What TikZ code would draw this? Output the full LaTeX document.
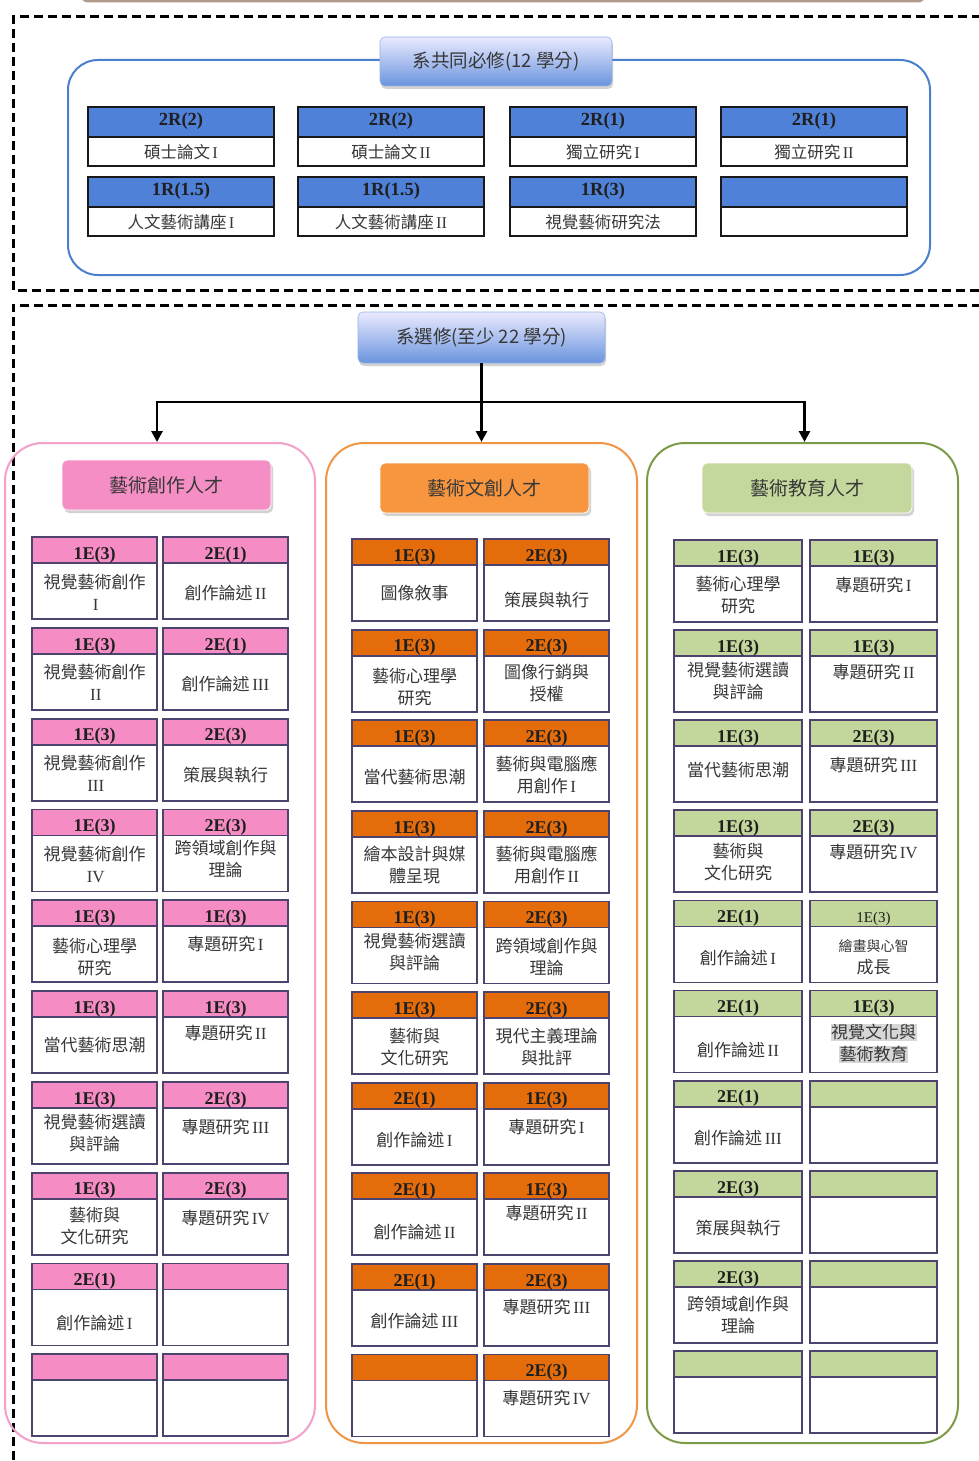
\documentclass[tikz,border=0pt]{standalone}
\usepackage{fontspec}
\setmainfont{Liberation Serif}
\newfontfamily\cjk{Noto Sans CJK TC}
\usetikzlibrary{shadows,arrows.meta,calc}
\definecolor{reqblue}{RGB}{79,129,216}
\definecolor{pinkhdr}{RGB}{246,140,196}
\definecolor{orghdr}{RGB}{228,108,10}
\definecolor{grnhdr}{RGB}{195,214,155}
\definecolor{cellrim}{RGB}{78,66,110}
\definecolor{contblue}{RGB}{74,128,206}
\definecolor{contpink}{RGB}{243,160,200}
\definecolor{contorg}{RGB}{240,150,70}
\definecolor{contgrn}{RGB}{125,155,70}
\definecolor{ttlpink}{RGB}{246,142,198}
\definecolor{ttlorg}{RGB}{248,150,64}
\definecolor{ttlgrn}{RGB}{196,215,156}
\definecolor{txtgray}{RGB}{55,55,55}
\definecolor{hlgray}{RGB}{215,215,215}
\definecolor{topbrown}{RGB}{176,154,140}
\tikzset{
  dashbox/.style={line width=3pt, dash pattern=on 9pt off 5pt},
  cellline/.style={draw=cellrim, line width=1.8pt},
  reqline/.style={draw=black!90, line width=2.2pt},
  lbl/.style={font=\bfseries\fontsize{18}{18}\selectfont, text=black!88, inner sep=0pt},
  reqlbl/.style={font=\bfseries\fontsize{18.5}{18.5}\selectfont, text=black!88, inner sep=0pt},
  bodytxt/.style={font=\cjk\fontsize{17}{22}\selectfont, text=txtgray, align=center, inner sep=0pt},
  reqbody/.style={font=\cjk\fontsize{16.5}{19}\selectfont, text=txtgray, inner sep=0pt},
  bluetitle/.style={rounded corners=5pt, top color=blue!8!white, bottom color=reqblue!85!white,
     draw=reqblue!60!white, line width=0.6pt, font=\cjk\fontsize{18.5}{18.5}\selectfont, text=txtgray,
     drop shadow={shadow xshift=1pt, shadow yshift=-3pt, opacity=0.35}},
  coltitle/.style={rounded corners=5pt, draw=white, line width=0.8pt,
     font=\cjk\fontsize{19}{19}\selectfont, text=txtgray,
     drop shadow={shadow xshift=2pt, shadow yshift=-3pt, opacity=0.35}},
  container/.style={rounded corners=38pt, line width=2pt, inner sep=0pt},
  conn/.style={line width=2.8pt, draw=black},
  arr/.style={conn, -{Triangle[width=11pt,length=11pt]}},
}
\newcommand\hlbox[1]{{\setlength{\fboxsep}{0.5pt}\colorbox{hlgray}{#1}}}
\newcommand\rmn[1]{{\rmfamily\hspace{0.15em}#1}}
% name, x, top, width, colour, label, body, body offset
\newcommand\course[8]{%
  \draw[cellline, fill=white] (#2,#3) rectangle ++(#4,82);
  \draw[cellline, fill=#5] (#2,#3) rectangle ++(#4,26);
  \node[lbl] (#1) at (#2+#4/2,#3+18) {#6};
  \node[bodytxt] (#1b) at (#2+#4/2,#3+#8) {#7};
}
% name, x, top, label, body
\newcommand\reqcell[5]{%
  \draw[reqline, fill=white] (#2,#3) rectangle ++(186,59);
  \draw[reqline, fill=reqblue] (#2,#3) rectangle ++(186,30);
  \node[reqlbl] (#1) at (#2+93,#3+14) {#4};
  \node[reqbody] (#1b) at (#2+93,#3+45) {#5};
}
\begin{document}
\begin{tikzpicture}[x=1pt,y=-1pt]
\useasboundingbox (0,0) rectangle (979,1461);
\fill[white] (0,0) rectangle (979,1461);
% remnant of section above
\draw[topbrown, line width=3pt, rounded corners=6pt] (82,-20) -- (82,1) -- (924,1) -- (924,-20);
% dashed frames
\draw[dashbox] (995,17) -- (13,17) -- (13,290) -- (995,290);
\draw[dashbox] (995,305) -- (13,305) -- (13,1480);
% ---------- required section ----------
\node[container, rounded corners=30pt, draw=contblue, minimum width=862, minimum height=215] (reqbox) at (499,167.5) {};
\node[bluetitle, minimum width=232, minimum height=49] (reqtitle) at (496,61.5) {系共同必修(12 學分)};
\reqcell{ra}{88}{107}{2R(2)}{碩士論文\rmn{I}}
\reqcell{rb}{298}{107}{2R(2)}{碩士論文\rmn{II}}
\reqcell{rc}{510}{107}{2R(1)}{獨立研究\rmn{I}}
\reqcell{rd}{721}{107}{2R(1)}{獨立研究\rmn{II}}
\reqcell{re}{88}{177}{1R(1.5)}{人文藝術講座\rmn{I}}
\reqcell{rf}{298}{177}{1R(1.5)}{人文藝術講座\rmn{II}}
\reqcell{rg}{510}{177}{1R(3)}{視覺藝術研究法}
\reqcell{rh}{721}{177}{}{}
% ---------- elective section ----------
\node[bluetitle, minimum width=247, minimum height=51] (seltitle) at (481.5,337.5) {系選修(至少 22 學分)};
\node[container, draw=contpink, minimum width=310, minimum height=1000] (pk) at (160,943) {};
\node[container, draw=contorg, minimum width=311, minimum height=1000] (og) at (481.5,943) {};
\node[container, draw=contgrn, minimum width=311, minimum height=1000] (gr) at (802.5,943) {};
\coordinate (jn) at (481.5,402);
\draw[conn] (seltitle.south) -- (jn);
\draw[arr] (jn) -| ($(pk.north)+(-3,0)$);
\draw[arr] (jn) -- (og.north);
\draw[arr] (jn) -| ($(gr.north)+(2,0)$);
\node[coltitle, fill=ttlpink, minimum width=209, minimum height=50] (pkt) at (166.5,485) {藝術創作人才};
\node[coltitle, fill=ttlorg, minimum width=209, minimum height=50] (ogt) at (484.5,488) {藝術文創人才};
\node[coltitle, fill=ttlgrn, minimum width=210, minimum height=50] (grt) at (807,488) {藝術教育人才};
% pink column
\foreach \r/\la/\ba/\oa/\lb/\bb/\ob in {
 1/1E(3)/{視覺藝術創作\\\rmn{I}}/55/2E(1)/{創作論述\rmn{II}}/56,
 2/1E(3)/{視覺藝術創作\\\rmn{II}}/55/2E(1)/{創作論述\rmn{III}}/56,
 3/1E(3)/{視覺藝術創作\\\rmn{III}}/55/2E(3)/{策展與執行}/56,
 4/1E(3)/{視覺藝術創作\\\rmn{IV}}/55/2E(3)/{跨領域創作與\\理論}/50,
 5/1E(3)/{藝術心理學\\研究}/57/1E(3)/{專題研究\rmn{I}}/44,
 6/1E(3)/{當代藝術思潮}/54/1E(3)/{專題研究\rmn{II}}/42,
 7/1E(3)/{視覺藝術選讀\\與評論}/51/2E(3)/{專題研究\rmn{III}}/45,
 8/1E(3)/{藝術與\\文化研究}/53/2E(3)/{專題研究\rmn{IV}}/45,
 9/2E(1)/{創作論述\rmn{I}}/60/{}/{}/50,
 10/{}/{}/50/{}/{}/50}{
  \pgfmathsetmacro\tp{537+90.8*(\r-1)}
  \course{pk-\r-L}{32}{\tp}{125}{pinkhdr}{\la}{\ba}{\oa}
  \course{pk-\r-R}{163}{\tp}{125}{pinkhdr}{\lb}{\bb}{\ob}
}
% orange column
\foreach \r/\la/\ba/\oa/\lb/\bb/\ob in {
 1/1E(3)/{圖像敘事}/54/2E(3)/{策展與執行}/61,
 2/1E(3)/{藝術心理學\\研究}/57/2E(3)/{圖像行銷與\\授權}/53,
 3/1E(3)/{當代藝術思潮}/57/2E(3)/{藝術與電腦應\\用創作\rmn{I}}/55,
 4/1E(3)/{繪本設計與媒\\體呈現}/54/2E(3)/{藝術與電腦應\\用創作\rmn{II}}/54,
 5/1E(3)/{視覺藝術選讀\\與評論}/51/2E(3)/{跨領域創作與\\理論}/56,
 6/1E(3)/{藝術與\\文化研究}/55/2E(3)/{現代主義理論\\與批評}/55,
 7/2E(1)/{創作論述\rmn{I}}/57/1E(3)/{專題研究\rmn{I}}/44,
 8/2E(1)/{創作論述\rmn{II}}/59/1E(3)/{專題研究\rmn{II}}/40,
 9/2E(1)/{創作論述\rmn{III}}/57/2E(3)/{專題研究\rmn{III}}/43,
 10/{}/{}/50/2E(3)/{專題研究\rmn{IV}}/44}{
  \pgfmathsetmacro\tp{539+90.6*(\r-1)}
  \course{og-\r-L}{352}{\tp}{125}{orghdr}{\la}{\ba}{\oa}
  \course{og-\r-R}{484}{\tp}{125}{orghdr}{\lb}{\bb}{\ob}
}
% green column
\foreach \r/\la/\ba/\oa/\lb/\bb/\ob in {
 1/1E(3)/{藝術心理學\\研究}/55/1E(3)/{專題研究\rmn{I}}/45,
 2/1E(3)/{視覺藝術選讀\\與評論}/51/1E(3)/{專題研究\rmn{II}}/42,
 3/1E(3)/{當代藝術思潮}/50/2E(3)/{專題研究\rmn{III}}/45,
 4/1E(3)/{藝術與\\文化研究}/52/2E(3)/{專題研究\rmn{IV}}/42,
 5/2E(1)/{創作論述\rmn{I}}/58/{\fontsize{15}{15}\selectfont\mdseries 1E(3)}/{\fontsize{14}{18}\selectfont 繪畫與心智\\成長}/57,
 6/2E(1)/{創作論述\rmn{II}}/60/1E(3)/{\hlbox{視覺文化與}\\\hlbox{藝術教育}}/53,
 7/2E(1)/{創作論述\rmn{III}}/57/{}/{}/50,
 8/2E(3)/{策展與執行}/57/{}/{}/50,
 9/2E(3)/{跨領域創作與\\理論}/54/{}/{}/50,
 10/{}/{}/50/{}/{}/50}{
  \pgfmathsetmacro\tp{540+90.1*(\r-1)}
  \course{gr-\r-L}{674}{\tp}{128}{grnhdr}{\la}{\ba}{\oa}
  \course{gr-\r-R}{810}{\tp}{127}{grnhdr}{\lb}{\bb}{\ob}
}
\end{tikzpicture}
\end{document}
